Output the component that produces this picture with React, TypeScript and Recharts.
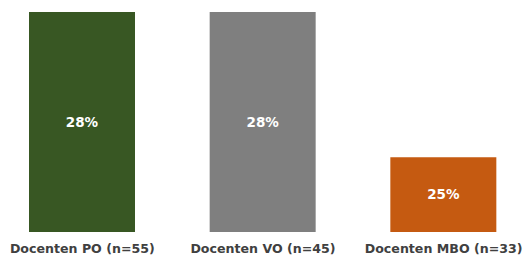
import React from 'react';
import { BarChart, Bar, XAxis, YAxis, Cell, LabelList } from 'recharts';

// Teacher groups and the share for each
const groups = ['Docenten PO (n=55)', 'Docenten VO (n=45)', 'Docenten MBO (n=33)'];
const shares = [28, 28, 25];
const colors = ['#385723', '#7F7F7F', '#C55A11'];

const data = groups.map((g, i) => ({ group: g, share: shares[i] }));

const font = '"DejaVu Sans", Verdana, sans-serif';

export default function App() {
  return (
    <div
      style={{
        position: 'absolute',
        left: 0,
        top: 0,
        width: 531,
        height: 257,
        overflow: 'hidden',
        background: '#fff',
      }}
    >
      <div style={{ position: 'absolute', left: -8, top: 0 }}>
        <BarChart
          width={542}
          height={257}
          data={data}
          margin={{ top: 12, right: 0, bottom: 0, left: 0 }}
        >
          <XAxis
            dataKey="group"
            axisLine={false}
            tickLine={false}
            tickMargin={6}
            height={25}
            interval={0}
            tick={{ fill: '#404040', fontSize: 12.6, fontWeight: 'bold', fontFamily: font }}
          />
          <YAxis hide domain={[23.46, 28]} />
          <Bar dataKey="share" barSize={106} isAnimationActive={false}>
            {data.map((d, i) => (
              <Cell key={d.group} fill={colors[i]} />
            ))}
            <LabelList
              dataKey="share"
              position="center"
              formatter={(v: number) => `${v}%`}
              style={{ fill: '#fff', fontSize: 13.5, fontWeight: 'bold', fontFamily: font }}
            />
          </Bar>
        </BarChart>
      </div>
    </div>
  );
}
